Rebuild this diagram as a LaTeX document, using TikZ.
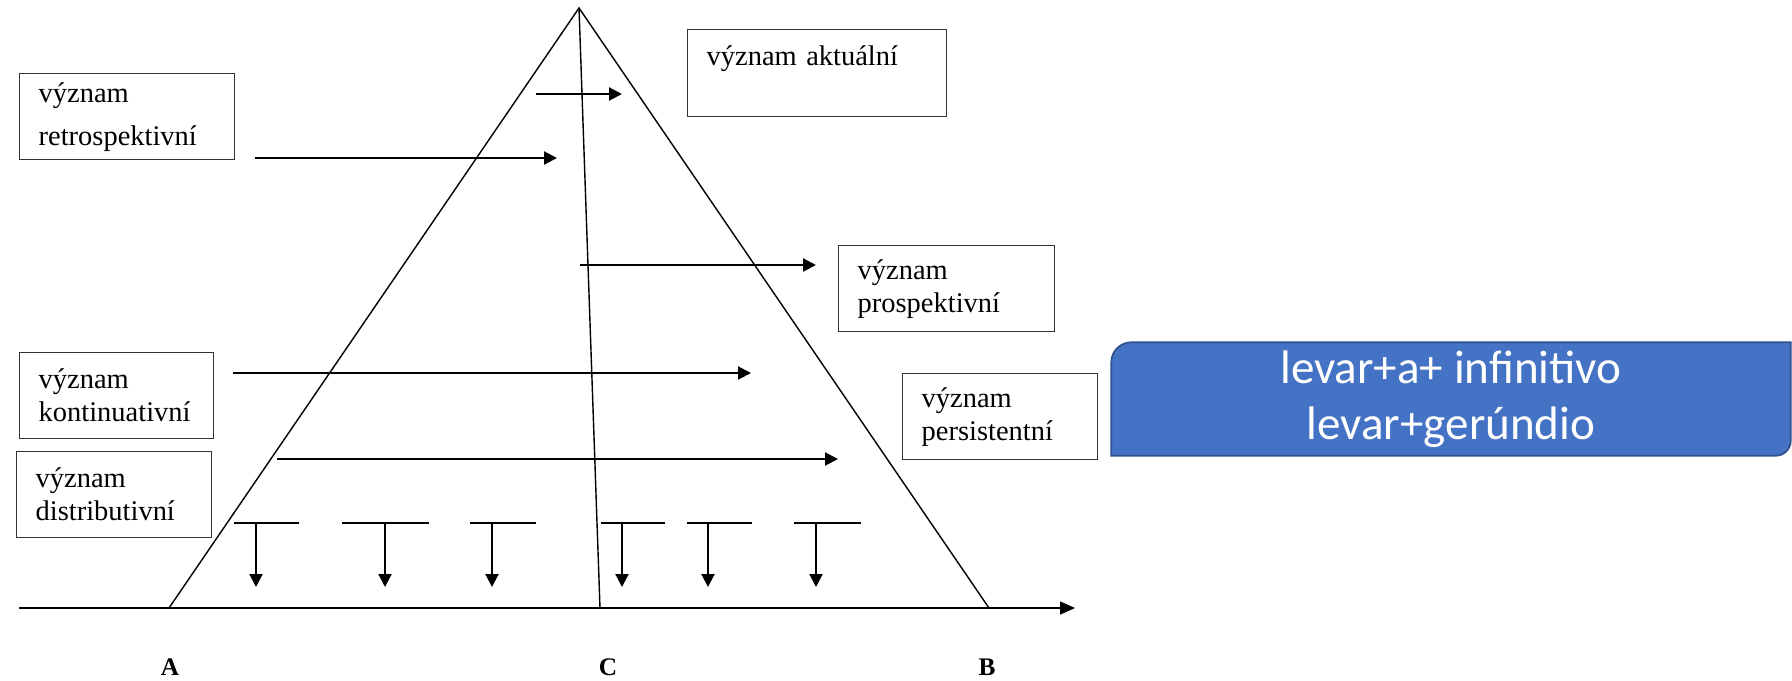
\documentclass[tikz,border=0pt]{standalone}
\usepackage{fontspec}
\setmainfont{Liberation Serif}
\newfontfamily\carlito{Carlito}
\usetikzlibrary{arrows.meta,backgrounds}
\definecolor{officeblue}{RGB}{68,114,196}
\definecolor{officeedge}{RGB}{47,82,143}

\begin{document}
\begin{tikzpicture}[
    >={Triangle[length=0.13cm,width=0.13cm]},
    meaning/.style={
        draw=black!80,
        rectangle,
        anchor=north west,
        align=left,
        inner xsep=0.19cm,
        inner ysep=0pt,
        minimum height=0.86cm,
        font=\fontsize{8.1}{9.4}\selectfont
    },
    shaft/.style={
        line width=0.6pt,
        ->
    },
    bar/.style={
        line width=0.4pt
    },
    letter/.style={
        font=\bfseries\fontsize{7.2}{8}\selectfont
    },
    levar/.style={
        text=white,
        align=center,
        inner sep=0pt,
        minimum width=6.78cm,
        minimum height=1.12cm,
        font=\carlito\fontsize{13.4}{15.9}\selectfont
    }
]
\useasboundingbox (0,0) rectangle (17.92,6.8);

% =====================
% TROJÚHELNÍK
% =====================
\coordinate (top) at (5.79,6.72);
\coordinate (A) at (1.69,0.72);
\coordinate (B) at (9.89,0.72);
\coordinate (C) at (6.00,0.72);
\coordinate (axisstart) at (0.19,0.72);
\coordinate (axisend) at (10.75,0.72);

\draw[line width=0.4pt] (A) -- (top) -- (B);
\draw[line width=0.4pt] (top) -- (C);
\draw[line width=0.45pt, -{Triangle[length=0.15cm,width=0.13cm]}] (axisstart) -- (axisend);

\node[letter] (labA) at (1.70,0.13) {A};
\node[letter] (labC) at (6.08,0.13) {C};
\node[letter] (labB) at (9.87,0.13) {B};

% =====================
% VÝZNAMY
% =====================
\node[meaning, text width=1.77cm, font=\fontsize{8.1}{12.2}\selectfont] (retro) at (0.19,6.07) {význam\\retrospektivní};
\node[meaning, text width=2.21cm, text height=0.36cm, text depth=0.51cm] (akt) at (6.87,6.51) {význam aktuální};
\node[meaning, text width=1.78cm] (prosp) at (8.38,4.35) {význam\\prospektivní};
\node[meaning, text width=1.56cm] (kont) at (0.19,3.28) {význam\\kontinuativní};
\node[meaning, text width=1.57cm] (distr) at (0.16,2.29) {význam\\distributivní};
\node[meaning, text width=1.57cm] (pers) at (9.02,3.07) {význam\\persistentní};

% =====================
% ŠIPKY
% =====================
\draw[shaft] (5.36,5.86) -- (6.22,5.86);
\draw[shaft] (2.55,5.22) -- (5.57,5.22);
\draw[shaft] (5.80,4.15) -- (8.16,4.15);
\draw[shaft] (2.33,3.07) -- (7.51,3.07);
\draw[shaft] (2.77,2.21) -- (8.38,2.21);

% rozdělení na úseky
\foreach \xl/\xa/\xr in {2.34/2.56/2.99, 3.42/3.85/4.29, 4.70/4.92/5.36,
                         6.01/6.22/6.65, 6.87/7.08/7.52, 7.94/8.16/8.61} {
    \draw[bar] (\xl,1.57) -- (\xr,1.57);
    \draw[shaft] (\xa,1.57) -- (\xa,0.93);
}

% =====================
% LEVAR
% =====================
\node[levar] (lev) at (14.51,2.81) {levar+a+ infinitivo\\levar+gerúndio};
\begin{scope}[on background layer]
\filldraw[fill=officeblue, draw=officeedge, line width=0.5pt]
    (lev.south west) -- ([yshift=-0.2cm]lev.north west)
    arc[start angle=180, end angle=90, radius=0.2cm]
    -- (lev.north east) -- ([yshift=0.15cm]lev.south east)
    arc[start angle=0, end angle=-90, radius=0.15cm] -- cycle;
\end{scope}

\end{tikzpicture}
\end{document}
